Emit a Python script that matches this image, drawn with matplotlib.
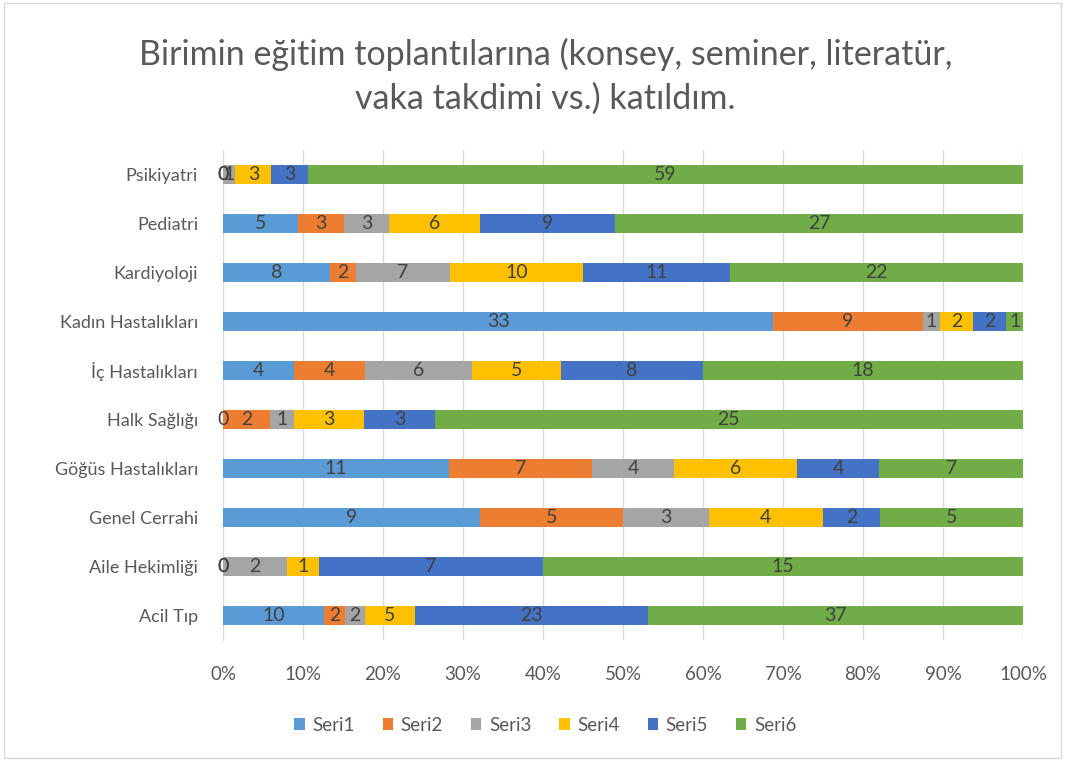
import numpy as np
import matplotlib
matplotlib.use('Agg')
import matplotlib.pyplot as plt
from matplotlib.patches import Rectangle

plt.rcParams['font.family'] = ['Lato', 'DejaVu Sans']

# categories bottom -> top
categories = ['Acil Tıp', 'Aile Hekimliği', 'Genel Cerrahi', 'Göğüs Hastalıkları',
              'Halk Sağlığı', 'İç Hastalıkları', 'Kadın Hastalıkları', 'Kardiyoloji',
              'Pediatri', 'Psikiyatri']
seri1 = [10, 0, 9, 11, 0, 4, 33, 8, 5, 0]
seri2 = [2, 0, 5, 7, 2, 4, 9, 2, 3, 0]
seri3 = [2, 2, 3, 4, 1, 6, 1, 7, 3, 1]
seri4 = [5, 1, 4, 6, 3, 5, 2, 10, 6, 3]
seri5 = [23, 7, 2, 4, 3, 8, 2, 11, 9, 3]
seri6 = [37, 15, 5, 7, 25, 18, 1, 22, 27, 59]
series_names = ['Seri1', 'Seri2', 'Seri3', 'Seri4', 'Seri5', 'Seri6']
colors = ['#5B9BD5', '#ED7D31', '#A5A5A5', '#FFC000', '#4472C4', '#70AD47']

data = np.array([seri1, seri2, seri3, seri4, seri5, seri6], dtype=float)
totals = data.sum(axis=0)
pct = data / totals * 100

fig = plt.figure(figsize=(10.65, 7.61), dpi=100)
fig.patches.append(Rectangle((0.004, 0.004), 0.992, 0.992, transform=fig.transFigure,
                             fill=False, edgecolor='#D9D9D9', linewidth=1))

ax = fig.add_axes([0.2094, 0.159, 0.7512, 0.644])
y = np.arange(len(categories))
left = np.zeros(len(categories))
for i in range(6):
    ax.barh(y, pct[i], left=left, height=0.4, color=colors[i], label=series_names[i], zorder=3)
    for j in range(len(categories)):
        ax.text(left[j] + pct[i][j] / 2, y[j], str(int(data[i][j])), ha='center', va='center',
                fontsize=14, color='#404040', zorder=4)
    left += pct[i]

ax.set_xlim(0, 100)
ax.set_ylim(-0.5, len(categories) - 0.5)
ax.set_xticks(np.arange(0, 101, 10))
ax.set_xticklabels([f'{v}%' for v in range(0, 101, 10)], fontsize=13.5, color='#595959')
ax.set_yticks(y)
ax.set_yticklabels(categories, fontsize=13, color='#595959')
ax.tick_params(axis='y', length=0, pad=18)
ax.tick_params(axis='x', length=0, pad=19)
ax.grid(axis='x', color='#D9D9D9', linewidth=1, zorder=0)
for s in ['top', 'right', 'bottom']:
    ax.spines[s].set_visible(False)
ax.spines['left'].set_color('#D9D9D9')

fig.text(0.512, 0.900, 'Birimin eğitim toplantılarına (konsey, seminer, literatür,\nvaka takdimi vs.) katıldım.',
         ha='center', va='center', fontsize=24.5, color='#595959', linespacing=1.45)

leg = fig.legend(loc='center', bbox_to_anchor=(0.512, 0.047), ncol=6, frameon=False,
                 fontsize=13.5, handlelength=0.55, handleheight=0.55, columnspacing=1.5,
                 handletextpad=0.4)
for t in leg.get_texts():
    t.set_color('#595959')

fig.savefig('out.png', dpi=100)
